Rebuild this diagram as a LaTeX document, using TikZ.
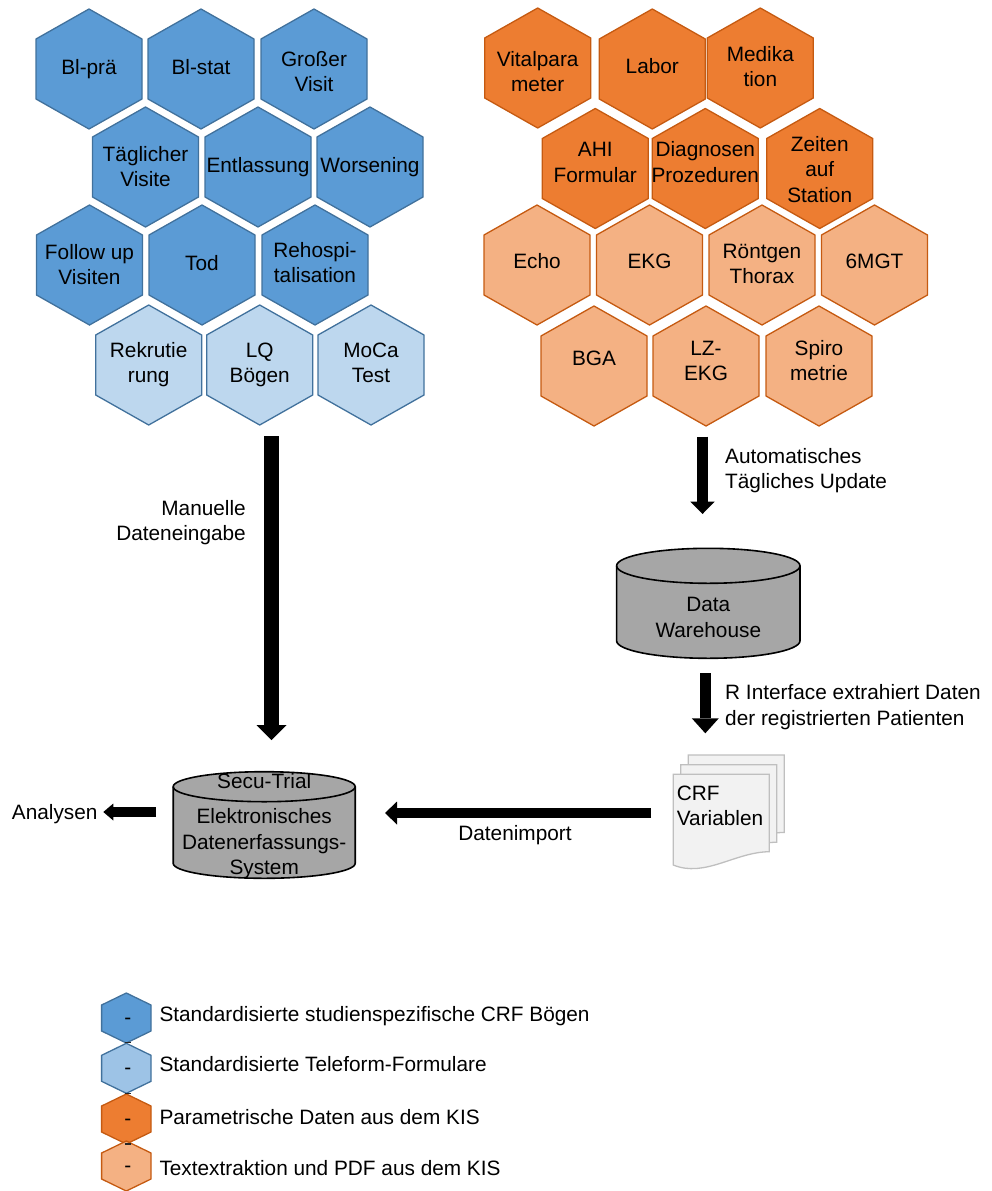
\documentclass[tikz,border=0pt]{standalone}
\usepackage{fontspec}
\setmainfont{Liberation Sans}
\usetikzlibrary{arrows.meta}
\definecolor{dblue}{HTML}{5B9BD5}
\definecolor{lblue}{HTML}{BDD7EE}
\definecolor{lgblue}{HTML}{9DC3E6}
\definecolor{bstroke}{HTML}{41719C}
\definecolor{dorange}{HTML}{ED7D31}
\definecolor{lorange}{HTML}{F4B183}
\definecolor{ostroke}{HTML}{C55A11}
\definecolor{cylgray}{HTML}{A6A6A6}
\definecolor{pagefill}{HTML}{F2F2F2}
\definecolor{pagestroke}{HTML}{BFBFBF}
\newcommand\fsz{\fontsize{20.8}{25.5}\selectfont}
\newcommand\stt{\strut}
\tikzset{
  hexdb/.style={fill=dblue, draw=bstroke, line width=1.3pt, line join=miter},
  hexlb/.style={fill=lblue, draw=bstroke, line width=1.3pt},
  hexlgb/.style={fill=lgblue, draw=bstroke, line width=1.3pt},
  hexdo/.style={fill=dorange, draw=ostroke, line width=1.3pt},
  hexlo/.style={fill=lorange, draw=ostroke, line width=1.3pt},
  txt/.style={font=\fsz, inner sep=0pt, text=black},
  hextext/.style={txt, align=center},
  cylline/.style={draw=black, line width=1.6pt},
  pagestyle/.style={fill=pagefill, draw=pagestroke, line width=1.3pt},
}
% name, x, y, style, text, text offset
\newcommand\hexagon[6]{%
  \draw[#4] ({#2},{#3-60}) -- ({#2+53},{#3-30}) -- ({#2+53},{#3+30}) -- ({#2},{#3+60}) -- ({#2-53},{#3+30}) -- ({#2-53},{#3-30}) -- cycle;
  \node[hextext] (#1) at ({#2},{#3+#6}) {#5};}
% name, x, y, style
\newcommand\lhex[4]{%
  \draw[#4] ({#2},{#3-25}) -- ({#2+24.7},{#3-13}) -- ({#2+24.7},{#3+13}) -- ({#2},{#3+25}) -- ({#2-24.7},{#3+13}) -- ({#2-24.7},{#3-13}) -- cycle;
  \node[txt, anchor=base] (#1) at ({#2+1.5},{#3+6}) {-};}
% cx, top centre y, bottom centre y, rx, ry
\newcommand\cyl[5]{%
  \fill[cylgray] ({#1-#4},#2) -- ({#1-#4},#3) arc[start angle=180,end angle=0,x radius=#4,y radius=#5] -- ({#1+#4},#2) arc[start angle=0,end angle=-180,x radius=#4,y radius=#5] -- cycle;
  \draw[cylline] ({#1-#4},#2) -- ({#1-#4},#3) arc[start angle=180,end angle=0,x radius=#4,y radius=#5] -- ({#1+#4},#2);
  \draw[cylline] (#1,#2) ellipse[x radius=#4, y radius=#5];}
\newcommand\docpage[2]{%
  \begin{scope}[shift={(#1,#2)}]
    \filldraw[pagestyle] (673.3,774.3) -- (769.3,774.3) -- (769.3,851.7) .. controls (735,852) and (705,878) .. (673.3,865) -- cycle;
  \end{scope}}
\begin{document}
\begin{tikzpicture}[x=1pt,y=-1pt]
\useasboundingbox (0,0) rectangle (991,1191);

% left group
\hexagon{blpra}{89}{69}{hexdb}{\stt Bl-prä}{0}
\hexagon{blstat}{201}{69}{hexdb}{\stt Bl-stat}{0}
\hexagon{gross}{314}{69}{hexdb}{\stt Großer\\\stt Visit}{5}
\hexagon{taeg}{145.5}{167}{hexdb}{\stt Täglicher\\\stt Visite}{2}
\hexagon{entl}{258}{167}{hexdb}{\stt Entlassung}{0}
\hexagon{wors}{370}{167}{hexdb}{\stt Worsening}{0}
\hexagon{follow}{89.5}{265}{hexdb}{\stt Follow up\\\stt Visiten}{2}
\hexagon{tod}{202}{265}{hexdb}{\stt Tod}{0}
\hexagon{rehosp}{315}{265}{hexdb}{\stt Rehospi-\\\stt talisation}{0}
\hexagon{rekr}{148.7}{365}{hexlb}{\stt Rekrutie\\\stt rung}{0}
\hexagon{lq}{259.7}{365}{hexlb}{\stt LQ\\\stt Bögen}{0}
\hexagon{moca}{371}{365}{hexlb}{\stt MoCa\\\stt Test}{0}

% right group
\hexagon{vital}{537.7}{68}{hexdo}{\stt Vitalpara\\\stt meter}{6}
\hexagon{labor}{652.3}{69}{hexdo}{\stt Labor}{-1}
\hexagon{medik}{760.3}{68}{hexdo}{\stt Medika\\\stt tion}{1}
\hexagon{ahi}{595.3}{168.5}{hexdo}{\stt AHI\\\stt Formular}{-4}
\hexagon{diag}{705.3}{168.5}{hexdo}{\stt Diagnosen\\\stt Prozeduren}{-4}
\hexagon{zeiten}{819.7}{168.5}{hexdo}{\stt Zeiten\\\stt auf\\\stt Station}{3}
\hexagon{echo}{537}{265}{hexlo}{\stt Echo}{-2}
\hexagon{ekg}{649.5}{265}{hexlo}{\stt EKG}{-2}
\hexagon{roent}{762}{265}{hexlo}{\stt Röntgen\\\stt Thorax}{1}
\hexagon{mgt}{874.5}{265}{hexlo}{\stt 6MGT}{-2}
\hexagon{bga}{594}{366}{hexlo}{\stt BGA}{-6}
\hexagon{lzekg}{706}{366}{hexlo}{\stt LZ-\\\stt EKG}{-3}
\hexagon{spiro}{819}{366}{hexlo}{\stt Spiro\\\stt metrie}{-3}

% cylinders
\cyl{708.3}{565.8}{640.8}{91.7}{17.5}
\node[txt, anchor=north, align=center] (dw) at (708.3,593.85) {\stt Data\\\stt Warehouse};
\cyl{264.2}{786.7}{863.3}{91}{15}
\node[txt, anchor=base] (secu) at (264.2,788.3) {Secu-Trial};
\node[txt, anchor=north, align=center] (eds) at (264.2,805.45) {\stt Elektronisches\\\stt Datenerfassungs-\\\stt System};

% document stack
\docpage{15}{-19.3}
\docpage{7.5}{-9.5}
\docpage{0}{0}
\node[txt, anchor=north west, align=left] (crf) at (676.7,782.15) {\stt CRF\\\stt Variablen};

% arrows
\coordinate (manS) at (271.5,436);
\coordinate (manE) at (271.5,740);
\draw[line width=15pt, -{Triangle[width=30pt,length=15pt,line width=0pt]}] (manS) -- (manE);
\coordinate (autoS) at (702.5,436.7);
\coordinate (autoE) at (702.5,514);
\draw[line width=11.7pt, -{Triangle[width=24.3pt,length=12.3pt,line width=0pt]}] (autoS) -- (autoE);
\coordinate (rS) at (705.3,673.3);
\coordinate (rE) at (705.3,733.3);
\draw[line width=10.5pt, -{Triangle[width=27pt,length=15pt,line width=0pt]}] (rS) -- (rE);
\coordinate (impS) at (651,813);
\coordinate (impE) at (385,813);
\draw[line width=10.5pt, -{Triangle[width=23pt,length=12pt,line width=0pt]}] (impS) -- (impE);
\coordinate (anaS) at (156,812);
\coordinate (anaE) at (103.3,812);
\draw[line width=9.5pt, -{Triangle[width=17pt,length=10pt,line width=0pt]}] (anaS) -- (anaE);

% labels
\node[txt, anchor=north east, align=right] (manlbl) at (246,497.15) {\stt Manuelle\\\stt Dateneingabe};
\node[txt, anchor=north west, align=left] (autolbl) at (725,445.15) {\stt Automatisches\\\stt Tägliches Update};
\node[txt, anchor=north west, align=left] (rlbl) at (725,681.5) {\stt R Interface extrahiert Daten\\\stt der registrierten Patienten};
\node[txt, anchor=base] (implbl) at (515,840) {Datenimport};
\node[txt, anchor=base west] (analbl) at (11.7,819.3) {Analysen};

% legend
\lhex{lg1}{126.3}{1018}{hexdb}
\lhex{lg2}{126.3}{1068.3}{hexlgb}
\lhex{lg3}{126.3}{1119}{hexdo}
\lhex{lg4}{126.3}{1166}{hexlo}
\draw[line width=1.5pt, black!85] (124.5,1042.5) -- (130.5,1042.5);
\draw[line width=1.5pt, black!85] (124.5,1093.5) -- (130.5,1093.5);
\draw[line width=1.5pt, black!85] (124.5,1143.8) -- (130.5,1143.8);
\node[txt, anchor=base west] (lt1) at (159.3,1021.7) {Standardisierte studienspezifische CRF Bögen};
\node[txt, anchor=base west] (lt2) at (159.3,1071.7) {Standardisierte Teleform-Formulare};
\node[txt, anchor=base west] (lt3) at (159.3,1124) {Parametrische Daten aus dem KIS};
\node[txt, anchor=base west] (lt4) at (159.3,1175) {Textextraktion und PDF aus dem KIS};
\end{tikzpicture}
\end{document}
